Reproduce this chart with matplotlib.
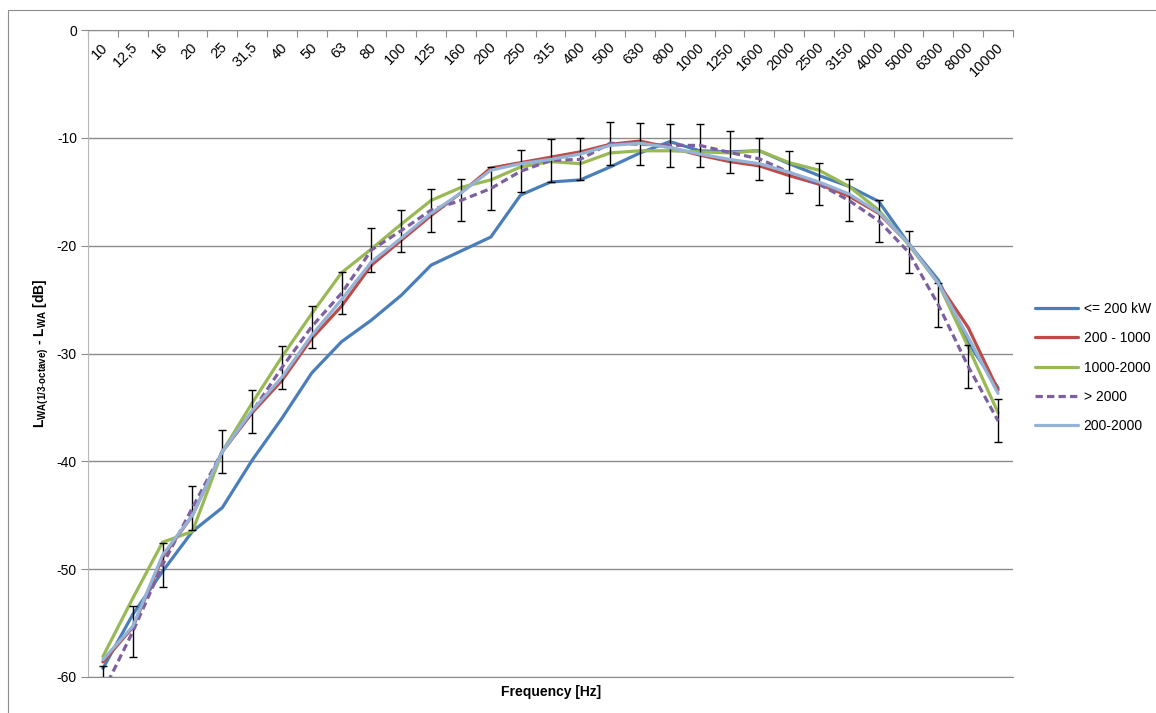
import numpy as np
import matplotlib
matplotlib.use("Agg")
import matplotlib.pyplot as plt
from matplotlib.patches import Rectangle

plt.rcParams['font.family'] = ['Liberation Sans', 'DejaVu Sans']
plt.rcParams['axes.unicode_minus'] = False
plt.rcParams['mathtext.fontset'] = 'custom'
plt.rcParams['mathtext.rm'] = 'Liberation Sans'
plt.rcParams['mathtext.bf'] = 'Liberation Sans:bold'

# terzband mid frequencies
freq_labels = ['10', '12,5', '16', '20', '25', '31,5', '40', '50', '63', '80', '100', '125',
               '160', '200', '250', '315', '400', '500', '630', '800', '1000', '1250', '1600',
               '2000', '2500', '3150', '4000', '5000', '6300', '8000', '10000']

lt_200 = [-59.2, -54.2, -50.2, -46.5, -44.3, -39.9, -36.0, -31.8, -28.9, -26.9, -24.6, -21.8,
          -20.5, -19.2, -15.3, -14.1, -13.9, -12.7, -11.4, -10.35, -11.2, -11.3, -11.2,
          -12.4, -13.5, -14.5, -15.9, -19.8, -23.2, -29.0, -33.2]
r200_1000 = [-58.6, -55.4, -48.9, -45.0, -39.1, -35.5, -32.5, -28.6, -25.6, -21.8, -19.5, -17.2,
             -15.1, -12.8, -12.3, -11.8, -11.3, -10.6, -10.3, -10.9, -11.6, -12.2, -12.6,
             -13.5, -14.3, -15.4, -17.0, -19.8, -23.5, -27.6, -33.4]
r1000_2000 = [-58.1, -52.7, -47.5, -46.5, -39.1, -34.6, -30.3, -26.3, -22.5, -20.3, -18.0, -15.8,
              -14.6, -13.9, -12.7, -12.2, -12.4, -11.4, -11.2, -11.2, -11.3, -11.4, -11.2,
              -12.3, -13.0, -14.5, -16.7, -19.9, -23.5, -29.4, -35.5]
gt_2000 = [-61.4, -55.8, -49.6, -44.3, -39.1, -35.4, -31.3, -27.5, -24.4, -20.4, -18.6, -16.7,
           -15.8, -14.7, -13.1, -12.1, -12.0, -10.5, -10.6, -10.7, -10.7, -11.35, -11.95,
           -13.2, -14.3, -15.8, -17.7, -20.6, -25.5, -31.2, -36.25]
gt_2000_err = [2.4, 2.35, 2.05, 2.05, 2.0, 2.0, 2.0, 1.95, 1.95, 2.0, 1.95, 2.0,
               1.95, 1.95, 1.95, 1.95, 1.95, 2.0, 1.95, 2.0, 2.0, 1.95, 1.95,
               1.95, 1.95, 1.95, 1.95, 1.95, 2.0, 2.0, 2.0]
r200_2000 = [-58.4, -55.3, -48.7, -45.0, -39.1, -35.3, -32.2, -28.3, -25.0, -21.5, -19.3, -17.0,
             -15.1, -13.0, -12.4, -12.0, -11.5, -10.7, -10.5, -10.9, -11.5, -12.0, -12.4,
             -13.2, -14.1, -15.2, -16.9, -19.8, -23.5, -28.5, -33.7]

x = np.arange(len(freq_labels))

fig = plt.figure(figsize=(11.56, 7.13), dpi=100)
ax = fig.add_axes([88 / 1156, 1 - 677 / 713, (1013 - 88) / 1156, (677 - 30) / 713])

grid_col = '#8c8c8c'
lw = 2.3
kw = dict(linewidth=lw, solid_capstyle='round', solid_joinstyle='round')

ax.plot(x, lt_200, color='#4a7ebb', label='<= 200 kW', **kw)
ax.plot(x, r200_1000, color='#be4b48', label='200 - 1000', **kw)
ax.plot(x, r1000_2000, color='#98b954', label='1000-2000', **kw)
ax.errorbar(x, gt_2000, yerr=gt_2000_err, fmt='none', ecolor='black', elinewidth=1,
            capsize=3, capthick=1)
ax.plot(x, gt_2000, color='#7d60a0', label='> 2000', linestyle=(0, (2.3, 1.3)),
        linewidth=lw, dash_capstyle='butt')
ax.plot(x, r200_2000, color='#95b3d7', label='200-2000', **kw)

ax.set_xlim(-0.5, len(x) - 0.5)
ax.set_ylim(-60, 0)
ax.set_yticks(np.arange(-60, 1, 10))
ax.yaxis.grid(True, color=grid_col, linewidth=1)
ax.set_axisbelow(True)

# category axis sits at y=0 (top), ticks between categories
ax.xaxis.set_ticks_position('top')
ax.set_xticks(np.arange(len(x) + 1) - 0.5)
ax.tick_params(axis='x', direction='in', length=5, color=grid_col, labeltop=False, labelbottom=False)
ax.tick_params(axis='y', direction='out', length=5, color=grid_col, labelsize=10, pad=3)
for i, lab in enumerate(freq_labels):
    ax.text(i + 0.1, -1.4, lab, rotation=45, rotation_mode='anchor', ha='right', va='center',
            fontsize=10.5)

ax.spines['right'].set_visible(False)
ax.spines['left'].set_color('#b8b8b8')
ax.spines['top'].set_color(grid_col)
ax.spines['bottom'].set_color(grid_col)

fig.text(550.7 / 1156, 1 - 691.7 / 713, 'Frequency [Hz]', ha='center', va='center',
         fontsize=10, fontweight='bold')
fig.text(41 / 1156, 1 - 353 / 713,
         r'$\mathbf{L_{WA(1/3\text{-}octave)}}$ - $\mathbf{L_{WA}}$ [dB]',
         rotation=90, ha='center', va='center', fontsize=10, fontweight='bold')

ax.legend(loc='upper left', bbox_to_anchor=(1035 / 1156, 1 - 302 / 713),
          bbox_transform=fig.transFigure, frameon=False, fontsize=10, handlelength=3.1,
          handletextpad=0.4, labelspacing=1.1, borderpad=0, borderaxespad=0)

# outer chart border
fig.patches.append(Rectangle((8 / 1156, -0.05), 1.0, 1.05 - 10 / 713, transform=fig.transFigure,
                             fill=False, edgecolor='#8c8c8c', linewidth=0.8))

fig.savefig('out.png', dpi=100)
